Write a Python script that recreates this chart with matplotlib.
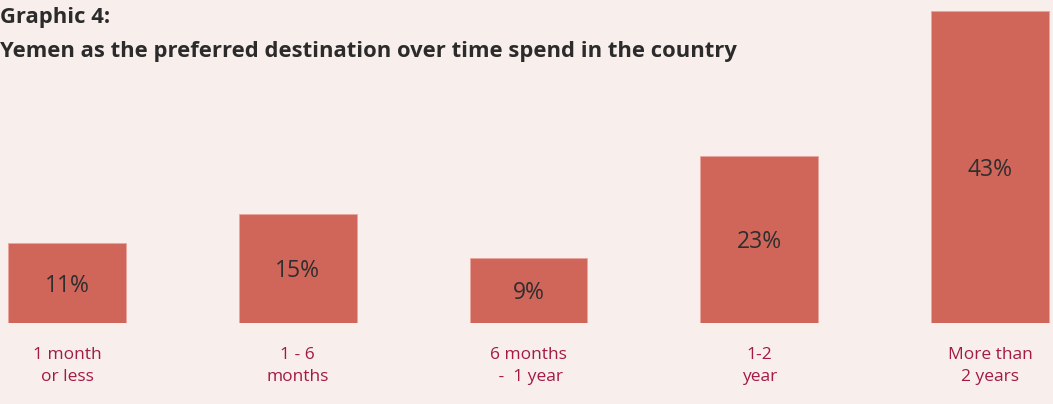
import matplotlib.pyplot as plt

# data
categories = ["1 month\nor less", "1 - 6\nmonths", "6 months\n -  1 year", "1-2\nyear", "More than\n2 years"]
values = [11, 15, 9, 23, 43]
value_labels = ["11%", "15%", "9%", "23%", "43%"]

bg = "#f8eeeb"
bar_color = "#d0655a"
cat_color = "#a31a45"

fig = plt.figure(figsize=(10.53, 4.04), dpi=100, facecolor=bg)
ax = fig.add_axes([0, 0.1998, 1, 0.8002])
ax.set_facecolor(bg)

x = list(range(len(values)))
ax.bar(x, values, width=0.511, color=bar_color, edgecolor="#e8a59d", linewidth=0.6)
ax.set_xlim(-0.2904, 4.273)
ax.set_ylim(0, 44.47)

for xi, v, lab in zip(x, values, value_labels):
    ax.text(xi, v / 2 - 0.35, lab, ha="center", va="center", fontsize=16.5,
            family="Open Sans", color="#2e2e2e")

for xi, c in zip(x, categories):
    ax.text(xi, -3.3, c, ha="center", va="top", fontsize=12.5,
            family="Open Sans", color=cat_color, linespacing=1.5)

ax.axis("off")

fig.text(0.0, 1 - 17 / 404, "Graphic 4:", ha="left", va="center",
         fontsize=15.8, fontweight="bold", family="Open Sans", color="#2b2b2b")
fig.text(0.0, 1 - 52 / 404, "Yemen as the preferred destination over time spend in the country",
         ha="left", va="center", fontsize=15.8, fontweight="bold", family="Open Sans", color="#2b2b2b")

fig.savefig("out.png", dpi=100, facecolor=bg)
